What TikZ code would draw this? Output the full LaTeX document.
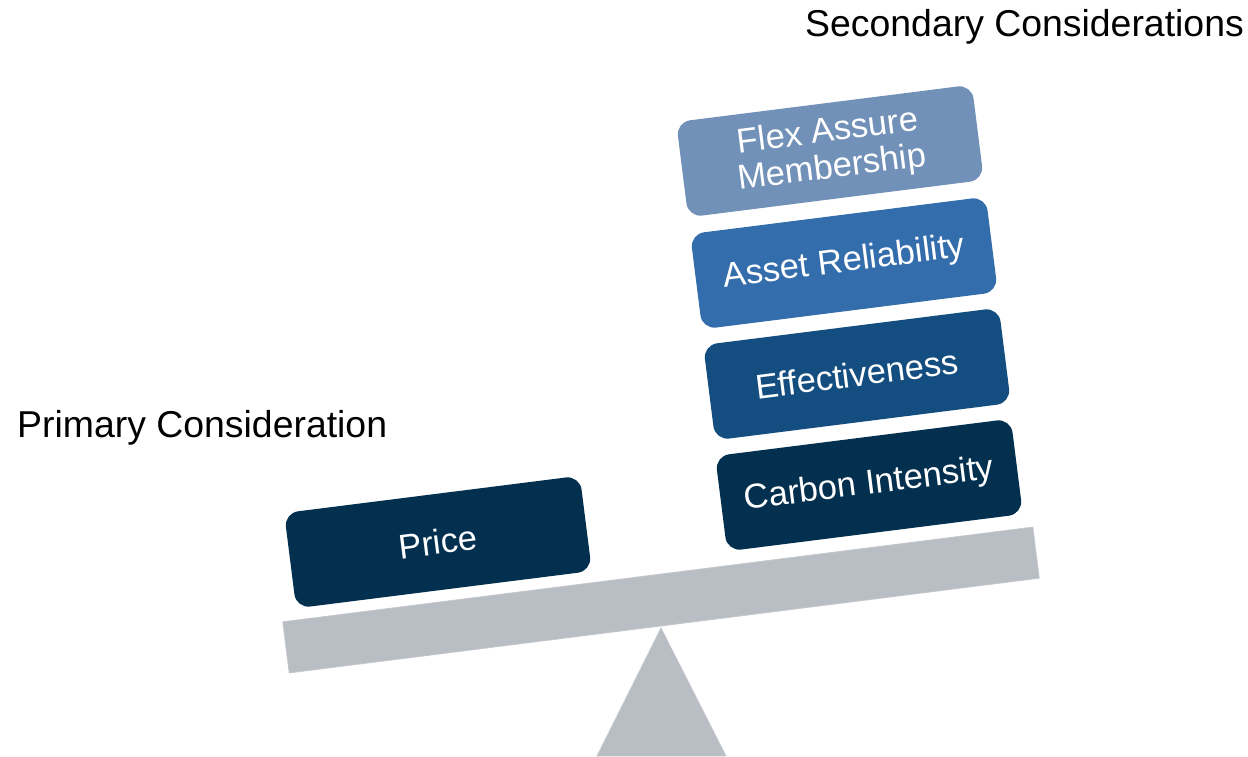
\documentclass[tikz,border=0pt]{standalone}
\usepackage{fontspec}
\setmainfont{Liberation Sans}
\definecolor{navy}{HTML}{03304F}
\definecolor{midblue}{HTML}{144E80}
\definecolor{blue}{HTML}{336DAC}
\definecolor{paleblue}{HTML}{7191B8}
\definecolor{beamgrey}{HTML}{B9BEC5}
\definecolor{beamedge}{HTML}{C4C8CD}
\tikzset{
  weight/.style={rectangle, rounded corners=14pt, rotate=7.2, minimum width=298pt,
    minimum height=96pt, inner sep=0pt, text=white, align=center,
    font=\fontsize{34.5}{36.5}\selectfont},
  heading/.style={inner sep=0pt, anchor=base west, font=\fontsize{37.4}{44}\selectfont, text=black},
}
\begin{document}
\begin{tikzpicture}[x=1pt, y=-1pt]
\useasboundingbox (0,0) rectangle (1248,756);
% fulcrum
\coordinate (apex) at (661,628);
\coordinate (bl) at (597,756);
\coordinate (br) at (726,756);
\fill[beamgrey, draw=beamedge, line width=0.8pt] (apex) -- (br) -- (bl) -- cycle;
% beam
\node[rectangle, fill=beamgrey, draw=beamedge, line width=0.8pt, rotate=7.2,
  minimum width=756pt, minimum height=51.5pt, inner sep=0pt] (beam) at (661,600) {};
% weights
\node[weight, fill=navy] (price) at (438,542) {Price};
\node[weight, fill=navy] (carbon) at (869,485) {Carbon Intensity};
\node[weight, fill=midblue] (effect) at (857,374) {Effectiveness};
\node[weight, fill=blue] (asset) at (844,263) {Asset Reliability};
\node[weight, fill=paleblue] (flex) at (830,151) {Flex Assure\\Membership};
% headings
\node[heading] (primary) at (17,437) {Primary Consideration};
\node[heading] (secondary) at (805,36) {Secondary Considerations};
\end{tikzpicture}
\end{document}
